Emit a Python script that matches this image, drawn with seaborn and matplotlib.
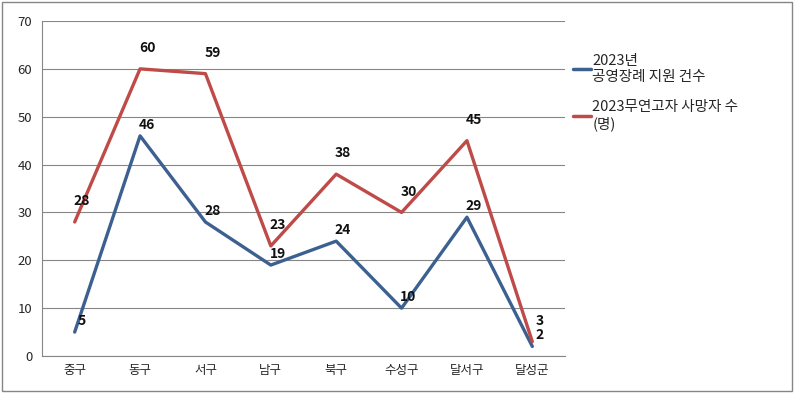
import pandas as pd
import numpy as np
import matplotlib
matplotlib.use("Agg")
import matplotlib.pyplot as plt
import seaborn as sns
from matplotlib.patches import Rectangle

# data
districts = ["중구", "동구", "서구", "남구", "북구", "수성구", "달서구", "달성군"]
funeral_support = [5, 46, 28, 19, 24, 10, 29, 2]
unclaimed_deaths = [28, 60, 59, 23, 38, 30, 45, 3]
series_names = ["2023년\n공영장례 지원 건수", "2023무연고자 사망자 수\n(명)"]
colors = ["#3C6190", "#BE4B48"]

df = pd.DataFrame({
    "district": districts * 2,
    "x": list(range(len(districts))) * 2,
    "value": funeral_support + unclaimed_deaths,
    "series": [series_names[0]] * len(districts) + [series_names[1]] * len(districts),
})

sns.set_style("white")
plt.rcParams['font.family'] = ['Noto Sans CJK KR', 'DejaVu Sans']

fig = plt.figure(figsize=(7.95, 3.93), dpi=100)
ax = fig.add_axes([42 / 795, 37 / 393, (565 - 42) / 795, (372 - 37) / 393])

sns.lineplot(data=df, x="x", y="value", hue="series", palette=colors,
             linewidth=2.4, ax=ax, legend=True)

# value labels
for i, v in enumerate(funeral_support):
    ax.annotate(str(v), (i, v), xytext=(5, 3), textcoords="offset points",
                ha="center", va="bottom", fontsize=10, fontweight="bold", color="#111111")
for i, v in enumerate(unclaimed_deaths):
    ax.annotate(str(v), (i, v), xytext=(5, 10), textcoords="offset points",
                ha="center", va="bottom", fontsize=10, fontweight="bold", color="#111111")

ax.set_xlim(-0.5, len(districts) - 0.5)
ax.set_ylim(0, 70)
ax.set_yticks(np.arange(0, 71, 10))
ax.set_xticks(range(len(districts)))
ax.set_xticklabels(districts, fontsize=9)
ax.set_xticks(np.arange(-0.5, len(districts), 1), minor=True)
ax.tick_params(axis="x", which="major", length=0, pad=6)
ax.tick_params(axis="x", which="minor", length=4, color="#868686", direction="out")
ax.tick_params(axis="y", length=4, color="#868686", direction="out", labelsize=9.5, pad=3)
ax.set_xlabel("")
ax.set_ylabel("")
ax.grid(axis="y", color="#868686", linewidth=0.8)
ax.set_axisbelow(True)
for side in ["top", "right"]:
    ax.spines[side].set_visible(False)
for side in ["left", "bottom"]:
    ax.spines[side].set_color("#868686")
    ax.spines[side].set_linewidth(0.8)

leg = ax.legend(loc="upper left", bbox_to_anchor=(1.005, 0.92), frameon=False,
                fontsize=10.5, handlelength=1.2, handletextpad=0.1,
                labelspacing=1.1, borderaxespad=0)
for line in leg.get_lines():
    line.set_linewidth(2.5)

# outer border
fig.patches.append(Rectangle((2 / 795, 2 / 393), 790 / 795, 389 / 393,
                             transform=fig.transFigure, fill=False,
                             edgecolor="#868686", linewidth=1))

fig.savefig("out.png", dpi=100)
